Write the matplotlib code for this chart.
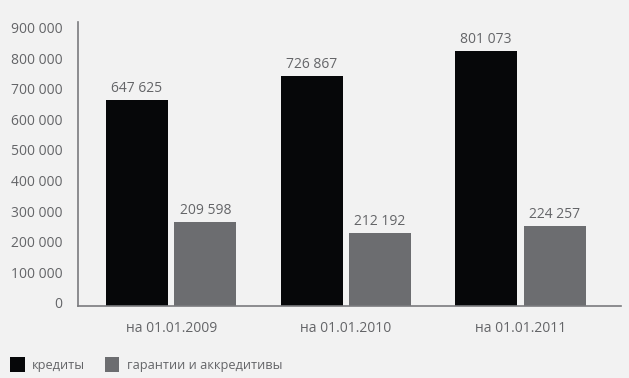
import matplotlib
matplotlib.use('Agg')
import matplotlib.pyplot as plt
import matplotlib.transforms as mtransforms
import numpy as np

# данные
даты = ['на 01.01.2009', 'на 01.01.2010', 'на 01.01.2011']
кредиты = [673000, 751600, 833300]          # высота столбцов как на картинке
гарантии = [274500, 238600, 261400]
подписи_кредиты = ['647 625', '726 867', '801 073']
подписи_гарантии = ['209 598', '212 192', '224 257']
деления = [0, 100000, 200000, 300000, 400000, 500000, 600000, 700000, 800000, 900000]

plt.rcParams['font.family'] = ['Open Sans', 'DejaVu Sans']
цвет_текста = '#646568'
фон = '#f2f2f2'

fig = plt.figure(figsize=(6.29, 3.78), dpi=100, facecolor=фон)
ax = fig.add_axes([78 / 629, 72 / 378, 543 / 629, 284 / 378], facecolor=фон)

x = np.arange(len(даты))
w = 0.355
d = 0.196
b1 = ax.bar(x - d, кредиты, w, color='#060709', label='кредиты')
b2 = ax.bar(x + d, гарантии, w, color='#6c6d70', label='гарантии и аккредитивы')

for bars, labels in ((b1, подписи_кредиты), (b2, подписи_гарантии)):
    for bar, lab in zip(bars, labels):
        ax.annotate(lab, (bar.get_x() + bar.get_width() / 2, bar.get_height()),
                    xytext=(0, 3), textcoords='offset points', ha='center', va='bottom',
                    fontsize=10, color=цвет_текста)

ax.set_xlim(-0.534, 2.576)
ax.set_ylim(0, 928000)
ax.set_xticks(x)
ax.set_xticklabels(даты)
ax.set_yticks(деления)
ax.set_yticklabels(['{:,}'.format(v).replace(',', ' ') for v in деления])
ax.tick_params(length=0, labelsize=10, labelcolor=цвет_текста)
ax.tick_params(axis='y', pad=11)
ax.tick_params(axis='x', pad=11)
сдвиг = mtransforms.ScaledTranslation(0, 3 / 100, fig.dpi_scale_trans)
for t in ax.get_yticklabels():
    t.set_transform(t.get_transform() + сдвиг)

for s in ['top', 'right']:
    ax.spines[s].set_visible(False)
for s in ['left', 'bottom']:
    ax.spines[s].set_color('#7a7b7e')
    ax.spines[s].set_linewidth(1.2)

fig.legend(loc='lower left', bbox_to_anchor=(10 / 629, 6 / 378), ncol=2, frameon=False,
           fontsize=9.2, handlelength=1.15, handleheight=1.4, handletextpad=0.6,
           columnspacing=1.5, labelcolor=цвет_текста, borderaxespad=0, borderpad=0)

fig.savefig('out.png', dpi=100, facecolor=фон)
